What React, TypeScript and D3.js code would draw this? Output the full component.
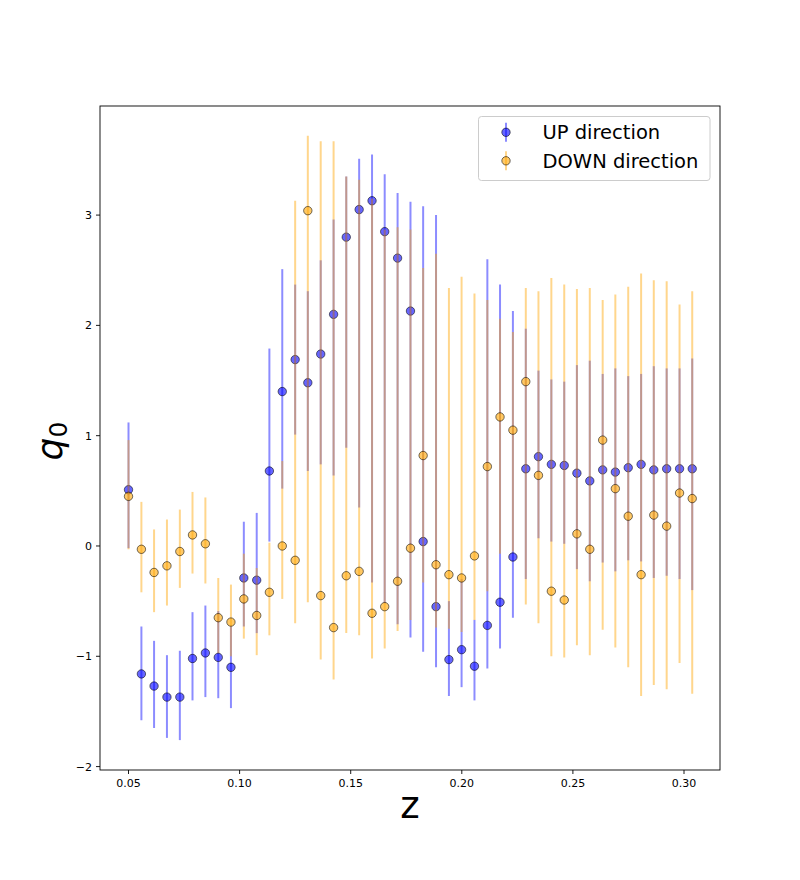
import React from 'react';
import * as d3 from 'd3';

const zValues = [
  0.0500, 0.0558, 0.0615, 0.0673, 0.0731, 0.0788, 0.0846, 0.0904, 0.0961, 0.1019,
  0.1077, 0.1134, 0.1192, 0.1250, 0.1307, 0.1365, 0.1423, 0.1480, 0.1538, 0.1596,
  0.1653, 0.1711, 0.1769, 0.1826, 0.1884, 0.1942, 0.1999, 0.2057, 0.2115, 0.2172,
  0.2230, 0.2288, 0.2345, 0.2403, 0.2461, 0.2518, 0.2576, 0.2634, 0.2691, 0.2749,
  0.2807, 0.2864, 0.2922, 0.2980, 0.3037,
];

const upValues = [
  0.51, -1.16, -1.27, -1.37, -1.37, -1.02, -0.97, -1.01, -1.10, -0.29,
  -0.31, 0.68, 1.40, 1.69, 1.48, 1.74, 2.10, 2.80, 3.05, 3.13,
  2.85, 2.61, 2.13, 0.04, -0.55, -1.03, -0.94, -1.09, -0.72, -0.51,
  -0.10, 0.70, 0.81, 0.74, 0.73, 0.66, 0.59, 0.69, 0.67, 0.71,
  0.74, 0.69, 0.70, 0.70, 0.70,
];
const upLower = [
  -0.02, -1.58, -1.65, -1.74, -1.76, -1.40, -1.37, -1.38, -1.47, -0.73,
  -0.79, 0.04, 0.52, 1.01, 0.68, 0.74, 0.64, 0.89, 0.35, -0.33,
  -0.52, -0.71, -0.83, -0.96, -1.10, -1.36, -1.28, -1.40, -1.11, -0.93,
  -0.65, -0.30, 0.07, 0.04, 0.02, -0.21, -0.32, -0.15, -0.23, -0.13,
  -0.14, -0.29, -0.27, -0.30, -0.40,
];
const upUpper = [
  1.12, -0.73, -0.86, -0.99, -0.95, -0.60, -0.54, -0.59, -0.73, 0.22,
  0.30, 1.79, 2.51, 2.37, 2.31, 2.59, 2.96, 3.35, 3.51, 3.55,
  3.37, 3.20, 3.12, 3.08, 3.00, -0.50, -0.30, -0.67, 2.60, 2.37,
  2.13, 1.97, 1.59, 1.51, 1.49, 1.64, 1.68, 1.56, 1.61, 1.54,
  1.56, 1.63, 1.61, 1.61, 1.70,
];

const downValues = [
  0.45, -0.03, -0.24, -0.18, -0.05, 0.10, 0.02, -0.65, -0.69, -0.48,
  -0.63, -0.42, 0.00, -0.13, 3.04, -0.45, -0.74, -0.27, -0.23, -0.61,
  -0.55, -0.32, -0.02, 0.82, -0.17, -0.26, -0.29, -0.09, 0.72, 1.17,
  1.05, 1.49, 0.64, -0.41, -0.49, 0.11, -0.03, 0.96, 0.52, 0.27,
  -0.26, 0.28, 0.18, 0.48, 0.43,
];
const downLower = [
  -0.03, -0.42, -0.60, -0.54, -0.38, -0.25, -0.34, -0.97, -1.00, -0.84,
  -0.99, -0.81, -0.48, -0.70, -0.51, -1.03, -1.21, -0.79, -0.81, -1.02,
  -0.93, -0.77, -0.67, -0.33, -0.74, -0.75, -0.78, -0.67, -0.41, -0.07,
  -0.05, -0.53, -0.70, -1.00, -1.01, -0.90, -0.99, -0.76, -0.92, -1.10,
  -1.36, -1.26, -1.30, -1.06, -1.34,
];
const downUpper = [
  0.96, 0.40, 0.15, 0.24, 0.33, 0.49, 0.44, -0.29, -0.35, -0.07,
  -0.20, 0.03, 0.77, 3.13, 3.72, 3.67, 3.67, 3.35, 3.32, 3.15,
  2.87, 2.89, 2.87, 2.52, 2.65, 2.34, 2.44, 2.29, 2.23, 2.06,
  1.94, 2.34, 2.31, 2.43, 2.37, 2.33, 2.34, 2.23, 2.28, 2.35,
  2.47, 2.41, 2.40, 2.19, 2.31,
];

const xTicks = [0.05, 0.10, 0.15, 0.20, 0.25, 0.30];
const yTicks = [-2, -1, 0, 1, 2, 3];
const seriesLabels = ['UP direction', 'DOWN direction'];
const seriesColors = ['blue', 'orange'];

const FONT = 'DejaVu Sans, sans-serif';

export default function App() {
  const W = 800, H = 880;
  const L = 100, R = 720, T = 106, B = 770;
  const x = d3.scaleLinear().domain([0.03717, 0.3162]).range([L, R]);
  const y = d3.scaleLinear().domain([-2.031, 3.989]).range([B, T]);

  const series = [
    { vals: upValues, lo: upLower, hi: upUpper, color: seriesColors[0] },
    { vals: downValues, lo: downLower, hi: downUpper, color: seriesColors[1] },
  ];

  const barOpacity = 0.45;
  const markerOpacity = 0.6;
  const r = 4.2;

  return (
    <div style={{ position: 'absolute', left: 0, top: 0 }}>
      <svg width={W} height={H} viewBox={`0 0 ${W} ${H}`} style={{ display: 'block', background: '#fff' }}>
        <rect x={0} y={0} width={W} height={H} fill="#fff" />
        {series.map((s, si) => (
          <g key={si}>
            {zValues.map((z, i) => (
              <line key={'b' + i} x1={x(z)} x2={x(z)} y1={y(s.lo[i])} y2={y(s.hi[i])}
                stroke={s.color} strokeOpacity={barOpacity} strokeWidth={2} />
            ))}
            {zValues.map((z, i) => (
              <circle key={'m' + i} cx={x(z)} cy={y(s.vals[i])} r={r}
                fill={s.color} fillOpacity={markerOpacity}
                stroke="#000" strokeOpacity={0.55} strokeWidth={1} />
            ))}
          </g>
        ))}
        {/* spines */}
        <rect x={L} y={T} width={R - L} height={B - T} fill="none" stroke="#000" strokeWidth={0.9} />
        {/* x ticks */}
        {xTicks.map((t) => (
          <g key={'xt' + t}>
            <line x1={x(t)} x2={x(t)} y1={B} y2={B + 4} stroke="#000" strokeWidth={0.9} />
            <text x={x(t)} y={786.5} textAnchor="middle" fontFamily={FONT} fontSize={11} fill="#000">
              {t.toFixed(2)}
            </text>
          </g>
        ))}
        {/* y ticks */}
        {yTicks.map((t) => (
          <g key={'yt' + t}>
            <line x1={L - 4} x2={L} y1={y(t)} y2={y(t)} stroke="#000" strokeWidth={0.9} />
            <text x={92} y={y(t) + 4} textAnchor="end" fontFamily={FONT} fontSize={11} fill="#000">
              {t < 0 ? '\u2212' + Math.abs(t) : String(t)}
            </text>
          </g>
        ))}
        {/* axis labels */}
        <text x={(L + R) / 2} y={818} textAnchor="middle" fontFamily={FONT} fontSize={37} fill="#000">z</text>
        <g transform={`translate(61.5, ${(T + B) / 2 + 3}) rotate(-90)`}>
          <text x={0} y={0} textAnchor="middle" fontFamily={FONT} fontSize={36} fill="#000">
            <tspan fontStyle="italic">q</tspan>
            <tspan fontSize={25} dy={5}>0</tspan>
          </text>
        </g>
        {/* legend */}
        <rect x={478.5} y={116.5} width={231.5} height={64} rx={3} ry={3}
          fill="#fff" fillOpacity={0.8} stroke="#cccccc" strokeWidth={1} />
        {seriesLabels.map((lab, i) => {
          const cy = 132.3 + i * 28.5;
          return (
            <g key={'lg' + i}>
              <line x1={506} x2={506} y1={cy - 9.5} y2={cy + 9.5} stroke={seriesColors[i]}
                strokeOpacity={barOpacity} strokeWidth={2} />
              <circle cx={506} cy={cy} r={r} fill={seriesColors[i]} fillOpacity={markerOpacity}
                stroke="#000" strokeOpacity={0.55} strokeWidth={1} />
              <text x={542.5} y={cy + 7} fontFamily={FONT} fontSize={19.5} fill="#000">{lab}</text>
            </g>
          );
        })}
      </svg>
    </div>
  );
}
